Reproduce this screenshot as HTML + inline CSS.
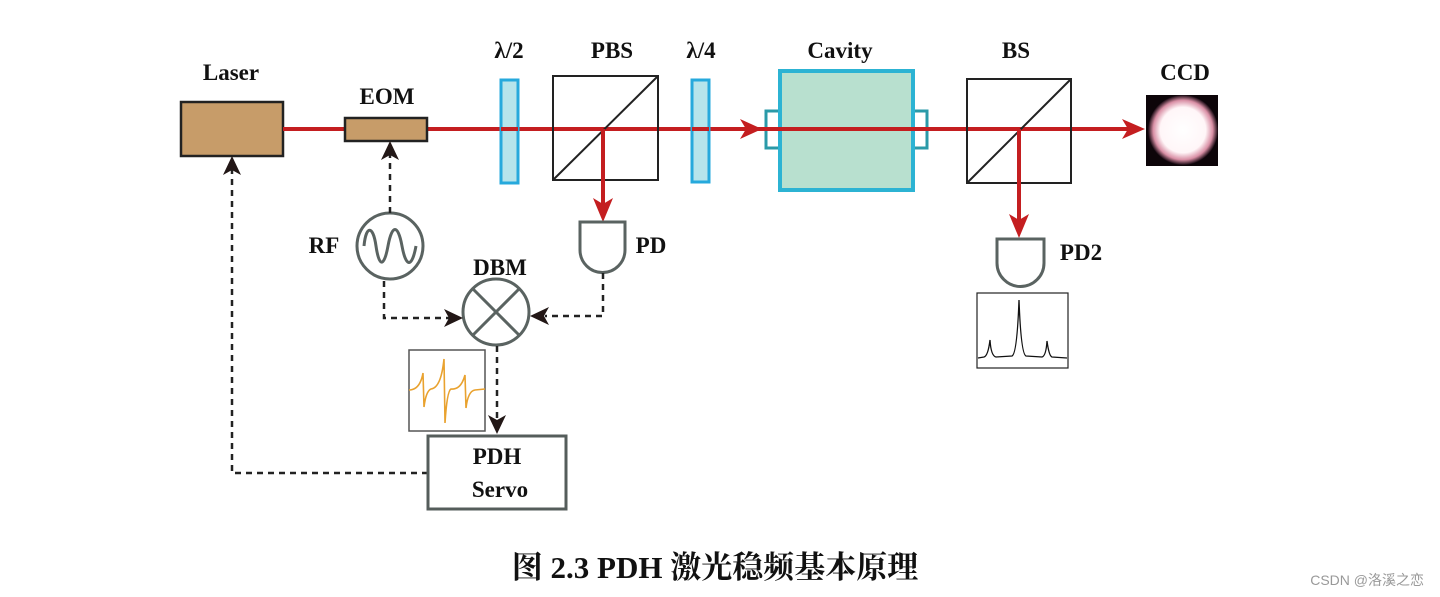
<!DOCTYPE html>
<html><head><meta charset="utf-8"><style>
html,body{margin:0;padding:0;background:#fff;}
svg{display:block;}
text{font-family:"Liberation Serif","Noto Serif CJK SC",serif;font-weight:bold;fill:#111;}
</style></head><body>
<svg width="1440" height="597" viewBox="0 0 1440 597" xmlns="http://www.w3.org/2000/svg">
<defs>
<radialGradient id="g" cx="50%" cy="50%" r="50%">
<stop offset="0" stop-color="#fff"/><stop offset="0.65" stop-color="#fff6f8"/><stop offset="0.85" stop-color="#d98fa5"/><stop offset="1" stop-color="#160810"/>
</radialGradient>
</defs>
<g font-size="23" text-anchor="middle">
<text x="231" y="80">Laser</text>
<text x="387" y="104">EOM</text>
<text x="509" y="58">λ/2</text>
<text x="612" y="58">PBS</text>
<text x="701" y="58">λ/4</text>
<text x="840" y="58">Cavity</text>
<text x="1016" y="58">BS</text>
<text x="1185" y="80">CCD</text>
<text x="324" y="253">RF</text>
<text x="651" y="253">PD</text>
<text x="500" y="275">DBM</text>
<text x="1081" y="260">PD2</text>
</g>

<rect x="181" y="102" width="102" height="54" fill="#c79c69" stroke="#222" stroke-width="2.5"/>
<line x1="283" y1="129" x2="1130" y2="129" stroke="#c41e20" stroke-width="4"/>
<polygon points="740,119 762,129 740,139 746,129" fill="#c41e20"/>
<polygon points="1122,119 1145,129 1122,139 1128,129" fill="#c41e20"/>
<rect x="345" y="118" width="82" height="23" fill="#c79c69" stroke="#222" stroke-width="2.5"/>
<rect x="501" y="80" width="17" height="103" fill="#a9dfe8" fill-opacity="0.85" stroke="#26a9dc" stroke-width="3"/>
<rect x="692" y="80" width="17" height="102" fill="#a9dfe8" fill-opacity="0.85" stroke="#26a9dc" stroke-width="3"/>
<line x1="501" y1="129" x2="518" y2="129" stroke="#c41e20" stroke-width="4"/>
<line x1="692" y1="129" x2="709" y2="129" stroke="#c41e20" stroke-width="4"/>
<rect x="553" y="76" width="105" height="104" fill="none" stroke="#222" stroke-width="2"/>
<line x1="553" y1="180" x2="658" y2="76" stroke="#222" stroke-width="2"/>
<line x1="603" y1="129" x2="603" y2="205" stroke="#c41e20" stroke-width="4"/>
<polygon points="593,198 603,222 613,198 603,204" fill="#c41e20"/>
<path d="M580,222 H625 V250 A22.5,22.5 0 0 1 580,250 Z" fill="#fff" stroke="#5a6361" stroke-width="3"/>
<rect x="766" y="111" width="14" height="37" fill="#fff" stroke="#2a9aa8" stroke-width="3"/>
<rect x="913" y="111" width="14" height="37" fill="#fff" stroke="#2a9aa8" stroke-width="3"/>
<rect x="780" y="71" width="133" height="119" fill="#b8e0cf" stroke="#2cb3d3" stroke-width="4"/>
<line x1="762" y1="129" x2="967" y2="129" stroke="#c41e20" stroke-width="4"/>
<rect x="967" y="79" width="104" height="104" fill="none" stroke="#222" stroke-width="2"/>
<line x1="967" y1="183" x2="1071" y2="79" stroke="#222" stroke-width="2"/>
<line x1="1019" y1="129" x2="1019" y2="220" stroke="#c41e20" stroke-width="4"/>
<polygon points="1009,214 1019,238 1029,214 1019,220" fill="#c41e20"/>
<path d="M997,239 H1044 V263 A23.5,23.5 0 0 1 997,263 Z" fill="#fff" stroke="#5a6361" stroke-width="3"/>
<rect x="1146" y="95" width="72" height="71" fill="#0d0509"/>
<circle cx="1183" cy="130" r="35" fill="url(#g)"/>
<rect x="977" y="293" width="91" height="75" fill="#fff" stroke="#222" stroke-width="1.2"/>
<path d="M978,358 L984,357 Q988,356 990,340 Q991,356 996,357 L1012,356 Q1017,354 1019,300 Q1021,354 1026,356 L1042,357 Q1046,356 1047,341 Q1049,356 1052,357 L1067,358" fill="none" stroke="#111" stroke-width="1.3"/>
<circle cx="390" cy="246" r="33" fill="#fff" stroke="#5a6361" stroke-width="3"/>
<path d="M364,246 C366,225 373,225 376,246 S384,268 388,246 S398,224 402,246 S412,268 416,246" fill="none" stroke="#5a6361" stroke-width="3"/>
<circle cx="496" cy="312" r="33" fill="#fff" stroke="#5a6361" stroke-width="3"/>
<line x1="473" y1="289" x2="519" y2="335" stroke="#5a6361" stroke-width="3"/>
<line x1="519" y1="289" x2="473" y2="335" stroke="#5a6361" stroke-width="3"/>
<g fill="none" stroke="#222" stroke-width="2.5" stroke-dasharray="6,5">
<path d="M390,213 V150"/>
<path d="M384,281 V318 H450"/>
<path d="M603,273 V316 H545"/>
<path d="M497,346 V420"/>
<path d="M428,473 H232 V170"/>
</g>
<g fill="#221716">
<polygon points="390,141 381,160 390,155 399,160"/>
<polygon points="232,156 223,175 232,170 241,175"/>
<polygon points="463,318 444,309 449,318 444,327"/>
<polygon points="530,316 549,307 544,316 549,325"/>
<polygon points="497,434 488,415 497,420 506,415"/>
</g>
<rect x="409" y="350" width="76" height="81" fill="#fff" stroke="#555" stroke-width="1.5"/>
<path d="M409,390 Q420,390 423,373 L424,407 Q426,391 431,389 Q441,388 444,359 L445,423 Q447,391 451,389 Q461,390 465,375 L466,408 Q468,391 475,390 L485,389" fill="none" stroke="#e9a22f" stroke-width="1.6"/>
<rect x="428" y="436" width="138" height="73" fill="#fff" stroke="#555d5b" stroke-width="3"/>
<text x="497" y="464" font-size="23" text-anchor="middle">PDH</text>
<text x="500" y="497" font-size="23" text-anchor="middle">Servo</text>
<text x="715" y="578" font-size="31" text-anchor="middle">图 2.3 PDH 激光稳频基本原理</text>
<text x="1424" y="585" font-size="14" text-anchor="end" style="font-family:'Liberation Sans','Noto Sans CJK SC',sans-serif;font-weight:normal;fill:#999">CSDN @洛溪之恋</text>
</svg>
</body></html>
